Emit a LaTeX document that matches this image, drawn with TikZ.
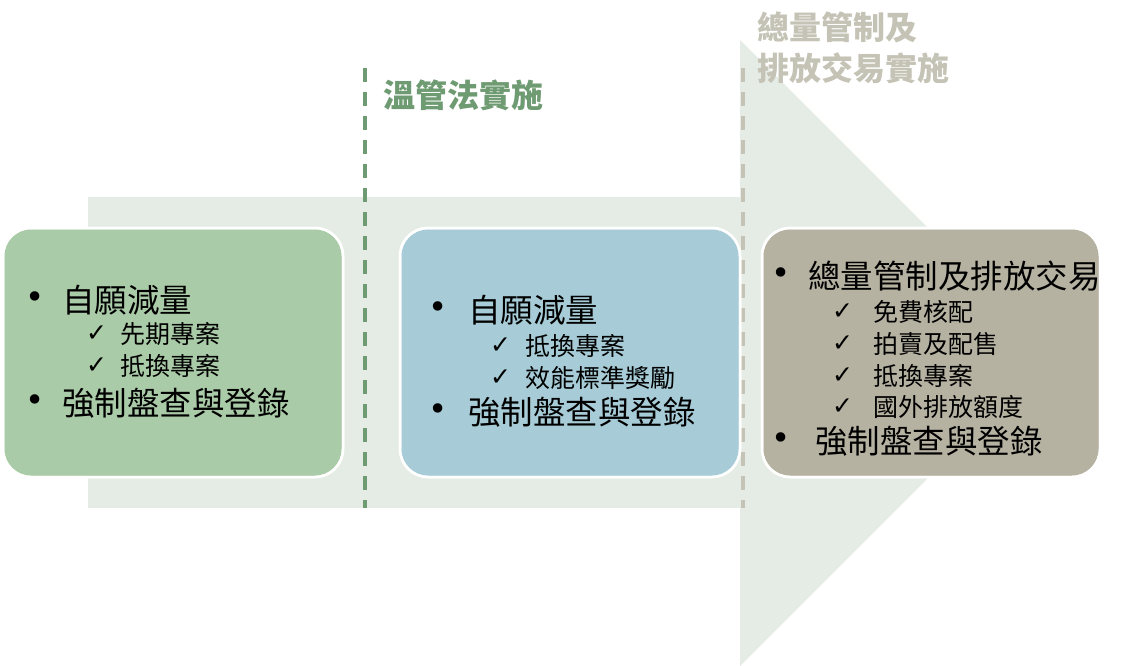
\documentclass[tikz,border=0pt]{standalone}
\usepackage{fontspec}
\setmainfont{Noto Sans CJK TC}
\newfontfamily\sym{DejaVu Sans}
\definecolor{arrowbg}{HTML}{E5ECE5}
\definecolor{boxA}{HTML}{AACBA7}
\definecolor{boxB}{HTML}{A7CCD7}
\definecolor{boxC}{HTML}{B6B2A2}
\definecolor{dashG}{HTML}{6E9B72}
\definecolor{dashT}{HTML}{C5C3B6}
\begin{document}
\begin{tikzpicture}[x=1pt,y=-1pt,
  box/.style={draw=white,line width=2.5pt,rounded corners=28pt},
  big/.style={anchor=west,font=\fontsize{32.5}{32}\selectfont,inner sep=0pt},
  small/.style={anchor=west,font=\fontsize{25}{25}\selectfont,inner sep=0pt},
  ttl/.style={anchor=west,font=\fontsize{32}{32}\selectfont\bfseries,inner sep=0pt},
  dline/.style={line width=3.5pt,dash pattern=on 14pt off 10pt}]
\useasboundingbox (0,0) rectangle (1140,666);
\fill[arrowbg] (88,197) -- (740,197) -- (740,40) -- (1053,353) -- (740,666) -- (740,508) -- (88,508) -- cycle;
\coordinate (g1) at (365,68); \coordinate (g2) at (365,508);
\coordinate (t1) at (743,68); \coordinate (t2) at (743,508);
\draw[dline,dashG] (g1) -- (g2);
\draw[dline,dashT] (t1) -- (t2);
\node[ttl,text=dashG] (tA) at (383,95) {溫管法實施};
\node[ttl,text=dashT] (tB1) at (757,27) {總量管制及};
\node[ttl,text=dashT] (tB2) at (757,68) {排放交易實施};
\fill[box,fill=boxA] (3,228) rectangle (343,477);
\draw[box] (3,228) rectangle (343,477);
\fill[box,fill=boxB] (400,228) rectangle (740,477);
\draw[box] (400,228) rectangle (740,477);
\fill[box,fill=boxC] (762,228) rectangle (1100,477);
\draw[box] (762,228) rectangle (1100,477);
% box 1
\node[big] (a0) at (25,300) {\sym •}; \node[big] (a1) at (62,300) {自願減量};
\node[small] (a2) at (86,334) {\sym ✓}; \node[small] (a3) at (120,334) {先期專案};
\node[small] (a4) at (86,366) {\sym ✓}; \node[small] (a5) at (120,366) {抵換專案};
\node[big] (a6) at (25,403) {\sym •}; \node[big] (a7) at (62,403) {強制盤查與登錄};
% box 2
\node[big] (b0) at (428,310) {\sym •}; \node[big] (b1) at (468,310) {自願減量};
\node[small] (b2) at (490,346) {\sym ✓}; \node[small] (b3) at (525,346) {抵換專案};
\node[small] (b4) at (490,378) {\sym ✓}; \node[small] (b5) at (525,378) {效能標準獎勵};
\node[big] (b6) at (428,412) {\sym •}; \node[big] (b7) at (468,412) {強制盤查與登錄};
% box 3
\node[big] (c0) at (771,276) {\sym •}; \node[big] (c1) at (808,276) {總量管制及排放交易};
\node[small] (c2) at (832,312) {\sym ✓}; \node[small] (c3) at (873,312) {免費核配};
\node[small] (c4) at (832,344) {\sym ✓}; \node[small] (c5) at (873,344) {拍賣及配售};
\node[small] (c6) at (832,376) {\sym ✓}; \node[small] (c7) at (873,376) {抵換專案};
\node[small] (c8) at (832,407) {\sym ✓}; \node[small] (c9) at (873,407) {國外排放額度};
\node[big] (c10) at (771,441) {\sym •}; \node[big] (c11) at (815,441) {強制盤查與登錄};
\end{tikzpicture}
\end{document}
